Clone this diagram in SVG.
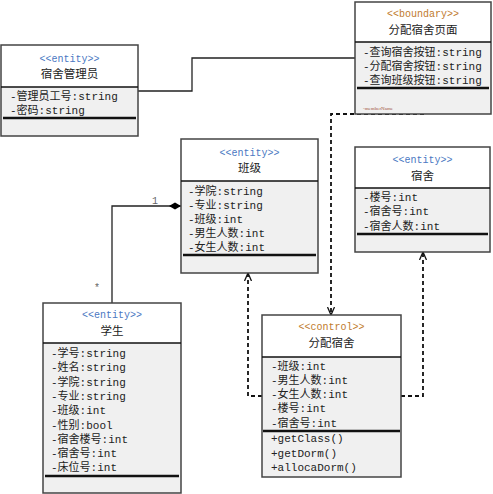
<svg xmlns="http://www.w3.org/2000/svg" width="493" height="494" viewBox="0 0 493 494">
<style>
.box{fill:none;stroke:#444;stroke-width:1.5}
.body{fill:#f0f0f0}
.sep{stroke:#111;stroke-width:1.5}
.thick{stroke:#111;stroke-width:2.5}
text{font-family:"Liberation Mono","Noto Sans CJK SC",monospace;font-size:11px;fill:#222}
.ent{fill:#4a78c2;text-anchor:middle;font-size:10px}
.ctl{fill:#c07a2c;text-anchor:middle;font-size:10px}
.ttl{text-anchor:middle;font-size:11.5px;font-family:"Noto Sans CJK SC",sans-serif}
.solid{fill:none;stroke:#222;stroke-width:1.3}
.dash{fill:none;stroke:#111;stroke-width:1.8;stroke-dasharray:4,3}
.lbl{fill:#666;font-size:10px}
</style>
<defs>
<marker id="arr" viewBox="0 0 8 8" refX="8" refY="4" markerWidth="8" markerHeight="8" markerUnits="userSpaceOnUse" orient="auto">
<path d="M0,0.5 L8,4 L0,7.5" fill="none" stroke="#111" stroke-width="1.3"/>
</marker>
<marker id="dia" viewBox="0 0 12 8" refX="12" refY="4" markerWidth="12" markerHeight="8" markerUnits="userSpaceOnUse" orient="auto">
<path d="M0,4 L6,0.5 L12,4 L6,7.5 Z" fill="#000"/>
</marker>
</defs>

<g id="connectors">
<path class="solid" d="M138,91 H192 V58 H355"/>
<path class="solid" d="M112,303 V206 H181" marker-end="url(#dia)"/>
<path class="dash" d="M424,114 H331 V315" marker-end="url(#arr)"/>
<path class="dash" d="M262,396 H248 V273" marker-end="url(#arr)"/>
<path class="dash" d="M401,396 H423 V252" marker-end="url(#arr)"/>
<text class="lbl" x="152" y="204">1</text>
<text class="lbl" x="94" y="291">*</text>
</g>

<g id="dorm-admin">
<rect class="body" x="1" y="87" width="137" height="49"/>
<rect class="box" x="1" y="45" width="137" height="91"/>
<line class="sep" x1="1" y1="87" x2="138" y2="87"/>
<text class="ent" x="69.5" y="62">&lt;&lt;entity&gt;&gt;</text>
<text class="ttl" x="69.5" y="78">宿舍管理员</text>
<text x="10" y="100">-管理员工号:string</text>
<text x="10" y="114">-密码:string</text>
<line class="thick" x1="3" y1="118" x2="136" y2="118"/>
</g>

<g id="boundary">
<rect class="body" x="355" y="42" width="136" height="72"/>
<rect class="box" x="355" y="2" width="136" height="112"/>
<line class="sep" x1="355" y1="42" x2="491" y2="42"/>
<text class="ctl" x="423" y="17">&lt;&lt;boundary&gt;&gt;</text>
<text class="ttl" x="423" y="34">分配宿舍页面</text>
<text x="363" y="56">-查询宿舍按钮:string</text>
<text x="363" y="70">-分配宿舍按钮:string</text>
<text x="363" y="84">-查询班级按钮:string</text>
<line class="thick" x1="357" y1="88" x2="489" y2="88"/>
<text x="363" y="110" style="font-size:5px;fill:#a0523a;font-family:'Liberation Serif',serif">-memberName</text>
</g>

<g id="class">
<rect class="body" x="181" y="181" width="137" height="92"/>
<rect class="box" x="181" y="139" width="137" height="134"/>
<line class="sep" x1="181" y1="181" x2="318" y2="181"/>
<text class="ent" x="249.5" y="156">&lt;&lt;entity&gt;&gt;</text>
<text class="ttl" x="249.5" y="172">班级</text>
<text x="188" y="195">-学院:string</text>
<text x="188" y="209">-专业:string</text>
<text x="188" y="223">-班级:int</text>
<text x="188" y="237">-男生人数:int</text>
<text x="188" y="251">-女生人数:int</text>
<line class="thick" x1="183" y1="255" x2="316" y2="255"/>
</g>

<g id="dorm">
<rect class="body" x="355" y="188" width="135" height="64"/>
<rect class="box" x="355" y="147" width="135" height="105"/>
<line class="sep" x1="355" y1="188" x2="490" y2="188"/>
<text class="ent" x="422.5" y="163">&lt;&lt;entity&gt;&gt;</text>
<text class="ttl" x="422.5" y="180">宿舍</text>
<text x="363" y="201">-楼号:int</text>
<text x="363" y="215">-宿舍号:int</text>
<text x="363" y="230">-宿舍人数:int</text>
<line class="thick" x1="357" y1="234" x2="488" y2="234"/>
</g>

<g id="student">
<rect class="body" x="43" y="343" width="138" height="150"/>
<rect class="box" x="43" y="303" width="138" height="190"/>
<line class="sep" x1="43" y1="343" x2="181" y2="343"/>
<text class="ent" x="112" y="318">&lt;&lt;entity&gt;&gt;</text>
<text class="ttl" x="112" y="335">学生</text>
<text x="51" y="357">-学号:string</text>
<text x="51" y="371">-姓名:string</text>
<text x="51" y="386">-学院:string</text>
<text x="51" y="400">-专业:string</text>
<text x="51" y="414">-班级:int</text>
<text x="51" y="429">-性别:bool</text>
<text x="51" y="443">-宿舍楼号:int</text>
<text x="51" y="457">-宿舍号:int</text>
<text x="51" y="471">-床位号:int</text>
<line class="thick" x1="45" y1="476" x2="179" y2="476"/>
</g>

<g id="allocate">
<rect class="body" x="262" y="357" width="139" height="120"/>
<rect class="box" x="262" y="315" width="139" height="162"/>
<line class="sep" x1="262" y1="357" x2="401" y2="357"/>
<text class="ctl" x="331.5" y="330">&lt;&lt;control&gt;&gt;</text>
<text class="ttl" x="331.5" y="347">分配宿舍</text>
<text x="271" y="370">-班级:int</text>
<text x="271" y="384">-男生人数:int</text>
<text x="271" y="398">-女生人数:int</text>
<text x="271" y="412">-楼号:int</text>
<text x="271" y="427">-宿舍号:int</text>
<line class="thick" x1="263" y1="431" x2="400" y2="431"/>
<text x="271" y="442">+getClass()</text>
<text x="271" y="457">+getDorm()</text>
<text x="271" y="471">+allocaDorm()</text>
</g>
</svg>
